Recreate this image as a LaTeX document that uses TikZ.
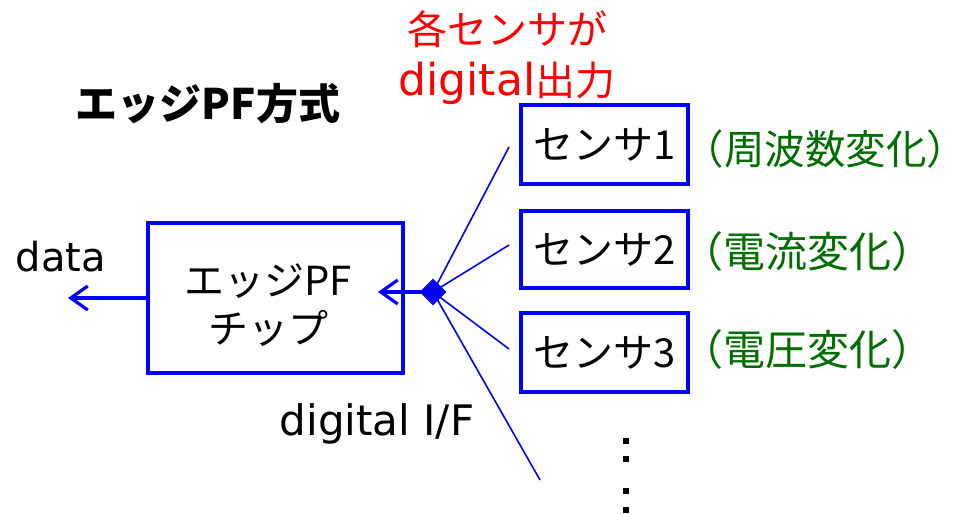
\documentclass[tikz,border=0pt]{standalone}
\usepackage{fontspec}
\setmainfont{Noto Sans CJK JP}
\newfontfamily\latf{DejaVu Sans}
\usetikzlibrary{arrows.meta,shapes.geometric}
\definecolor{pblue}{RGB}{0,0,255}
\definecolor{pred}{RGB}{255,0,0}
\definecolor{pgreen}{RGB}{0,110,0}
\tikzset{
  boxst/.style={draw=pblue, line width=4pt, inner sep=0pt},
  txt/.style={inner sep=0pt, font=\fontsize{40}{48}\selectfont},
  greentxt/.style={inner sep=0pt, font=\fontsize{42}{48}\selectfont, text=pgreen, anchor=west},
  arr/.style={draw=pblue, line width=3.2pt, -{Straight Barb[length=17pt,width=24pt,line width=3.2pt]}},
  thin/.style={draw=pblue, line width=1.6pt},
  dotst/.style={fill=black, minimum size=6pt, inner sep=0pt}
}
\begin{document}
\begin{tikzpicture}[x=1pt,y=-1pt]
\useasboundingbox (0,0) rectangle (968,514);
% title
\node[txt, font=\fontsize{42}{48}\selectfont\bfseries] (title) at (208,104) {エッジPF方式};
% red note
\node[txt, text=pred, align=center, font=\fontsize{40}{51}\selectfont] (note) at (507,58) {各センサが\\{\fontsize{44}{51}\selectfont\latf digital}出力};
% chip
\node[boxst, minimum width=255pt, minimum height=150pt] (chip) at (275.5,298) {};
\node[txt, align=center, font=\fontsize{40}{48}\selectfont] (chiptxt) at (268,305) {エッジPF\\チップ};
% sensors
\node[boxst, minimum width=167pt, minimum height=79pt] (s1) at (604.5,144.5) {};
\node[boxst, minimum width=167pt, minimum height=77pt] (s2) at (604.5,249.5) {};
\node[boxst, minimum width=167pt, minimum height=79pt] (s3) at (604.5,352.5) {};
\node[txt] (s1t) at (s1.center) {センサ1};
\node[txt] (s2t) at (s2.center) {センサ2};
\node[txt] (s3t) at (s3.center) {センサ3};
% green labels
\node[greentxt, font=\fontsize{40.5}{48}\selectfont] (g1) at (683.5,149) {（周波数変化）};
\node[greentxt] (g2) at (681,252) {（電流変化）};
\node[greentxt] (g3) at (681,350) {（電圧変化）};
% diamond junction
\node[diamond, fill=pblue, minimum size=27pt, inner sep=0pt] (j) at (433,292) {};
% free ends
\coordinate (e1) at (509,147);
\coordinate (e2) at (509,245);
\coordinate (e3) at (509,349);
\coordinate (e4) at (540,480);
\coordinate (chipin) at (378,292);
\coordinate (dataout) at (68,298);
\draw[thin] (j.center) -- (e1);
\draw[thin] (j.center) -- (e2);
\draw[thin] (j.center) -- (e3);
\draw[thin] (j.center) -- (e4);
\draw[arr] (j.center) -- (chipin);
\draw[arr] (chip.west) -- (dataout);
% texts
\node[txt, font=\fontsize{40}{48}\selectfont\latf] (data) at (61,257) {data};
\node[txt, font=\fontsize{42}{48}\selectfont\latf] (dif) at (377,424) {digital I/F};
% dots
\node[dotst] (d1) at (626,441) {};
\node[dotst] (d2) at (626,459) {};
\node[dotst] (d3) at (626,491) {};
\node[dotst] (d4) at (626,510) {};
\end{tikzpicture}
\end{document}
